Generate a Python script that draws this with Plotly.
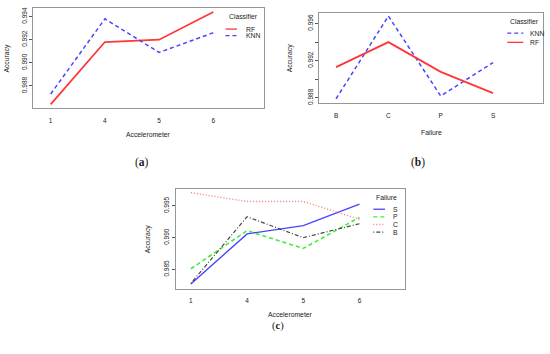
import plotly.graph_objects as go

# ---------------- data ----------------
accel = ["1", "4", "5", "6"]
rf_a = [0.9864, 0.9918, 0.9920, 0.9944]
knn_a = [0.9873, 0.9938, 0.9909, 0.9926]

failures = ["B", "C", "P", "S"]
knn_b = [0.9879, 0.9968, 0.9882, 0.9918]
rf_b = [0.9913, 0.9940, 0.9908, 0.9885]

s_c = [0.9827, 0.9906, 0.9919, 0.9953]
p_c = [0.9851, 0.9911, 0.9883, 0.9932]
c_c = [0.9971, 0.9957, 0.9957, 0.9929]
b_c = [0.9828, 0.9933, 0.9900, 0.9922]

yticks_a = [0.988, 0.990, 0.992, 0.994]
yticks_b = [0.988, 0.990, 0.992, 0.994, 0.996]
ylabels_b = ["0.988", "", "0.992", "", "0.996"]
yticks_c = [0.985, 0.990, 0.995]

W, H = 550, 354
def px(p):
    return p / W
def py(p):
    return 1 - p / H

RED = "rgb(255,55,55)"
BLUE = "rgb(70,70,255)"
GREEN = "rgb(60,240,60)"
PINK = "rgb(255,120,120)"
GRAY = "rgb(70,70,70)"
FONT = "Liberation Sans, Arial, sans-serif"

series = [
    # (axis suffix, x, y, name, color, dash, width)
    ("", accel, rf_a, "RF", RED, "solid", 1.8),
    ("", accel, knn_a, "KNN", BLUE, "4px,3px", 1.5),
    ("2", failures, knn_b, "KNN", BLUE, "4px,3px", 1.5),
    ("2", failures, rf_b, "RF", RED, "solid", 1.8),
    ("3", accel, s_c, "S", BLUE, "solid", 1.4),
    ("3", accel, p_c, "P", GREEN, "4px,3px", 1.6),
    ("3", accel, c_c, "C", PINK, "1px,2px", 1.4),
    ("3", accel, b_c, "B", GRAY, "1px,2px,4px,2px", 1.2),
]

fig = go.Figure()
for ax, xs, ys, name, color, dash, w in series:
    fig.add_trace(go.Scatter(
        x=xs, y=ys, mode="lines", name=name, showlegend=False,
        line=dict(color=color, dash=dash, width=w),
        xaxis="x" + ax, yaxis="y" + ax,
    ))

BOX = "rgb(150,150,150)"
tickfont = dict(family=FONT, size=6.5, color="#222")

def xaxis(domain, rng, anchor):
    return dict(domain=domain, range=rng, type="category", anchor=anchor,
                showline=True, mirror=True, linecolor=BOX, linewidth=1,
                showgrid=False, zeroline=False, ticks="outside", ticklen=6,
                tickcolor="rgba(0,0,0,0)", tickfont=tickfont)

def yaxis(domain, rng, anchor, tv, tt):
    return dict(domain=domain, range=rng, anchor=anchor,
                showline=True, mirror=True, linecolor=BOX, linewidth=1,
                showgrid=False, zeroline=False, ticks="outside", ticklen=3,
                tickcolor="#555", tickvals=tv, ticktext=tt, tickangle=-90,
                tickfont=tickfont)

fig.update_layout(
    width=W, height=H, margin=dict(l=0, r=0, t=0, b=0),
    paper_bgcolor="white", plot_bgcolor="white",
    xaxis=xaxis([px(33.3), px(264.3)], [-0.32, 3.94], "y"),
    yaxis=yaxis([py(108.3), py(7.3)], [0.98606, 0.99472], "x",
                yticks_a, [f"{v:.3f}" for v in yticks_a]),
    xaxis2=xaxis([px(319.3), px(543.3)], [-0.32, 3.96], "y2"),
    yaxis2=yaxis([py(103.3), py(12.3)], [0.98740, 0.99711], "x2",
                 yticks_b, ylabels_b),
    xaxis3=xaxis([px(175.7), px(405)], [-0.27, 3.81], "y3"),
    yaxis3=yaxis([py(290), py(189.3)], [0.98198, 0.99772], "x3",
                 yticks_c, [f"{v:.3f}" for v in yticks_c]),
)

ann = []
def text(x, y, s, size=6.8, angle=0, xanchor="center", family=FONT):
    ann.append(dict(x=px(x), y=py(y), xref="paper", yref="paper", text=s,
                    showarrow=False, textangle=angle, xanchor=xanchor,
                    yanchor="middle", font=dict(family=family, size=size, color="#222")))

# axis titles
text(148.8, 135, "Accelerometer")
text(7.3, 57.8, "Accuracy", angle=-90)
text(431, 133, "Failure")
text(290, 57.8, "Accuracy", angle=-90)
text(290, 316.5, "Accelerometer")
text(148.3, 240, "Accuracy", angle=-90)

# captions
SERIF = "Liberation Serif, DejaVu Serif, serif"
text(141.7, 162.7, "(<b>a</b>)", size=11.5, family=SERIF)
text(418, 163.0, "(<b>b</b>)", size=11.5, family=SERIF)
text(278, 328, "(<b>c</b>)", size=10.5, family=SERIF)

# manual legends (built from the series definitions)
legends = [
    ("Classifier", "", 227, 15.7, 28.3, 6.7, 225.5, 237, 244),
    ("Classifier", "2", 508.3, 20.7, 32.3, 9.4, 507.3, 523.3, 528.3),
    ("Failure", "3", 374, 198.3, 210, 7.7, 373.3, 385, 390.7),
]
shapes = []
for title, ax, tx, ty, y0, step, lx0, lx1, lbx in legends:
    text(tx, ty, title, xanchor="left")
    items = [s for s in series if s[0] == ax]
    for i, (_, _, _, name, color, dash, w) in enumerate(items):
        yy = y0 + i * step
        shapes.append(dict(type="line", xref="paper", yref="paper",
                           x0=px(lx0), x1=px(lx1), y0=py(yy), y1=py(yy),
                           line=dict(color=color, dash=dash, width=min(w, 1.3))))
        text(lbx, yy, name, xanchor="left")

fig.update_layout(annotations=ann, shapes=shapes)
fig.write_html("out.html", config={"displayModeBar": False},
               post_script="document.body.style.margin='0px';document.body.style.overflow='hidden';")
